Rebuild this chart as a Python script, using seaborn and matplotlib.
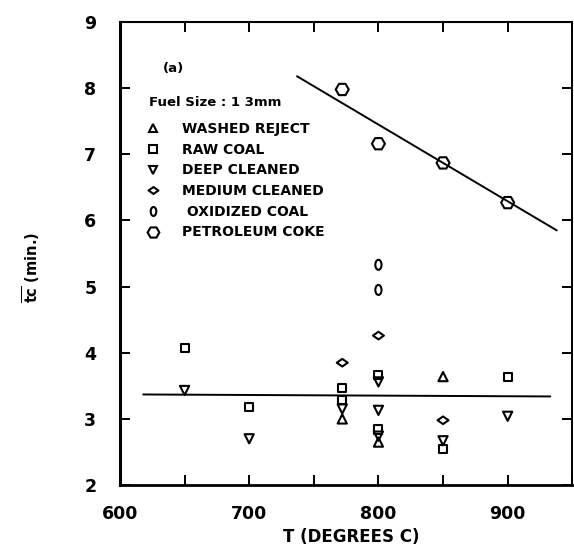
import numpy as np
import pandas as pd
import seaborn as sns
import matplotlib
matplotlib.use("Agg")
import matplotlib.pyplot as plt
from matplotlib.path import Path
from matplotlib.lines import Line2D

# Mean combustion time vs bed temperature, 13 mm fuel
washed_T = [772, 800, 850]
washed_tc = [3.00, 2.65, 3.64]

raw_T = [650, 700, 772, 772, 800, 800, 850, 900]
raw_tc = [4.07, 3.18, 3.47, 3.28, 3.66, 2.84, 2.55, 3.64]

deep_T = [650, 700, 772, 800, 800, 800, 850, 900]
deep_tc = [3.43, 2.70, 3.15, 3.56, 3.13, 2.74, 2.67, 3.04]

medium_T = [772, 800, 850]
medium_tc = [3.85, 4.26, 2.98]

oxid_T = [800, 800]
oxid_tc = [5.33, 4.95]

coke_T = [772, 800, 850, 900]
coke_tc = [7.98, 7.16, 6.87, 6.27]

# fitted lines (end points)
coke_fit_T = [737, 938]
coke_fit_tc = [8.18, 5.85]
coal_fit_T = [618, 933]
coal_fit_tc = [3.37, 3.34]

labels = ["WASHED REJECT", "RAW COAL", "DEEP CLEANED", "MEDIUM CLEANED",
          " OXIDIZED COAL", "PETROLEUM COKE"]
x_ticks = [600, 650, 700, 750, 800, 850, 900, 950]
x_ticklabels = ["600", "", "700", "", "800", "", "900", ""]
y_ticks = [2, 3, 4, 5, 6, 7, 8, 9]

sns.set_theme(style="ticks")
plt.rcParams["font.family"] = ["DejaVu Sans"]
plt.rcParams["font.weight"] = "bold"
for key in ["text.color", "axes.labelcolor", "xtick.color", "ytick.color",
            "axes.edgecolor"]:
    plt.rcParams[key] = "black"

# custom marker shapes
wide_diamond = Path([(-1, 0), (0, 0.7), (1, 0), (0, -0.7), (-1, 0)],
                    [Path.MOVETO, Path.LINETO, Path.LINETO, Path.LINETO, Path.CLOSEPOLY])
circ = Path.unit_circle()
narrow_oval = Path(circ.vertices * np.array([0.62, 1.0]), circ.codes)

series = [
    (washed_T, washed_tc, "^", 44),
    (raw_T, raw_tc, "s", 34),
    (deep_T, deep_tc, "v", 44),
    (medium_T, medium_tc, wide_diamond, 62),
    (oxid_T, oxid_tc, narrow_oval, 52),
    (coke_T, coke_tc, "H", 88),
]

fig = plt.figure(figsize=(5.74, 5.50), dpi=100)
ax = fig.add_axes([0.209, 0.118, 0.788, 0.842])

handles = []
for (T, tc, mk, s), lab in zip(series, labels):
    df = pd.DataFrame({"T": T, "tc": tc})
    sns.scatterplot(data=df, x="T", y="tc", marker=mk, s=s, ax=ax,
                    facecolor="none", edgecolor="black", linewidth=1.5,
                    legend=False, zorder=3)
    handles.append(Line2D([], [], linestyle="none", marker=mk,
                          markersize=np.sqrt(s) * 0.9, markerfacecolor="none",
                          markeredgecolor="black", markeredgewidth=1.5, label=lab))

sns.lineplot(x=coke_fit_T, y=coke_fit_tc, ax=ax, color="black", linewidth=1.4)
sns.lineplot(x=coal_fit_T, y=coal_fit_tc, ax=ax, color="black", linewidth=1.4)

ax.set_xlim(600, 950)
ax.set_ylim(2, 9)
ax.set_xticks(x_ticks)
ax.set_xticklabels(x_ticklabels)
ax.set_yticks(y_ticks)
ax.tick_params(axis="both", which="major", direction="in", length=7.5, width=1.4,
               colors="black", labelsize=12.5, top=True, right=True)
ax.tick_params(axis="x", pad=14)
ax.tick_params(axis="y", pad=17)
for t in ax.get_xticklabels() + ax.get_yticklabels():
    t.set_fontweight("bold")

for side, lw in [("left", 2.2), ("bottom", 2.0), ("top", 1.5), ("right", 1.4)]:
    ax.spines[side].set_visible(True)
    ax.spines[side].set_linewidth(lw)
    ax.spines[side].set_color("black")

ax.set_xlabel("T (DEGREES C)", fontsize=12, fontweight="bold", va="center")
ax.set_ylabel(r"$\overline{\mathbf{tc}}$ (min.)", fontsize=10.5, fontweight="bold",
              va="center")
ax.xaxis.set_label_coords(0.511, -0.112)
ax.yaxis.set_label_coords(-0.197, 0.47)

ax.text(0.119, 0.90, "(a)", transform=ax.transAxes, ha="center", va="center",
        fontsize=9.5, fontweight="bold")
ax.text(0.064, 0.827, "Fuel Size : 1 3mm", transform=ax.transAxes, ha="left",
        va="center", fontsize=9.5, fontweight="bold")

leg = ax.legend(handles=handles, loc="upper left", bbox_to_anchor=(0.0575, 0.784),
                frameon=False, borderaxespad=0, borderpad=0, handlelength=1.0,
                handletextpad=1.6, labelspacing=0.48, prop={"size": 10, "weight": "bold"})

fig.savefig("out.png", dpi=100)
